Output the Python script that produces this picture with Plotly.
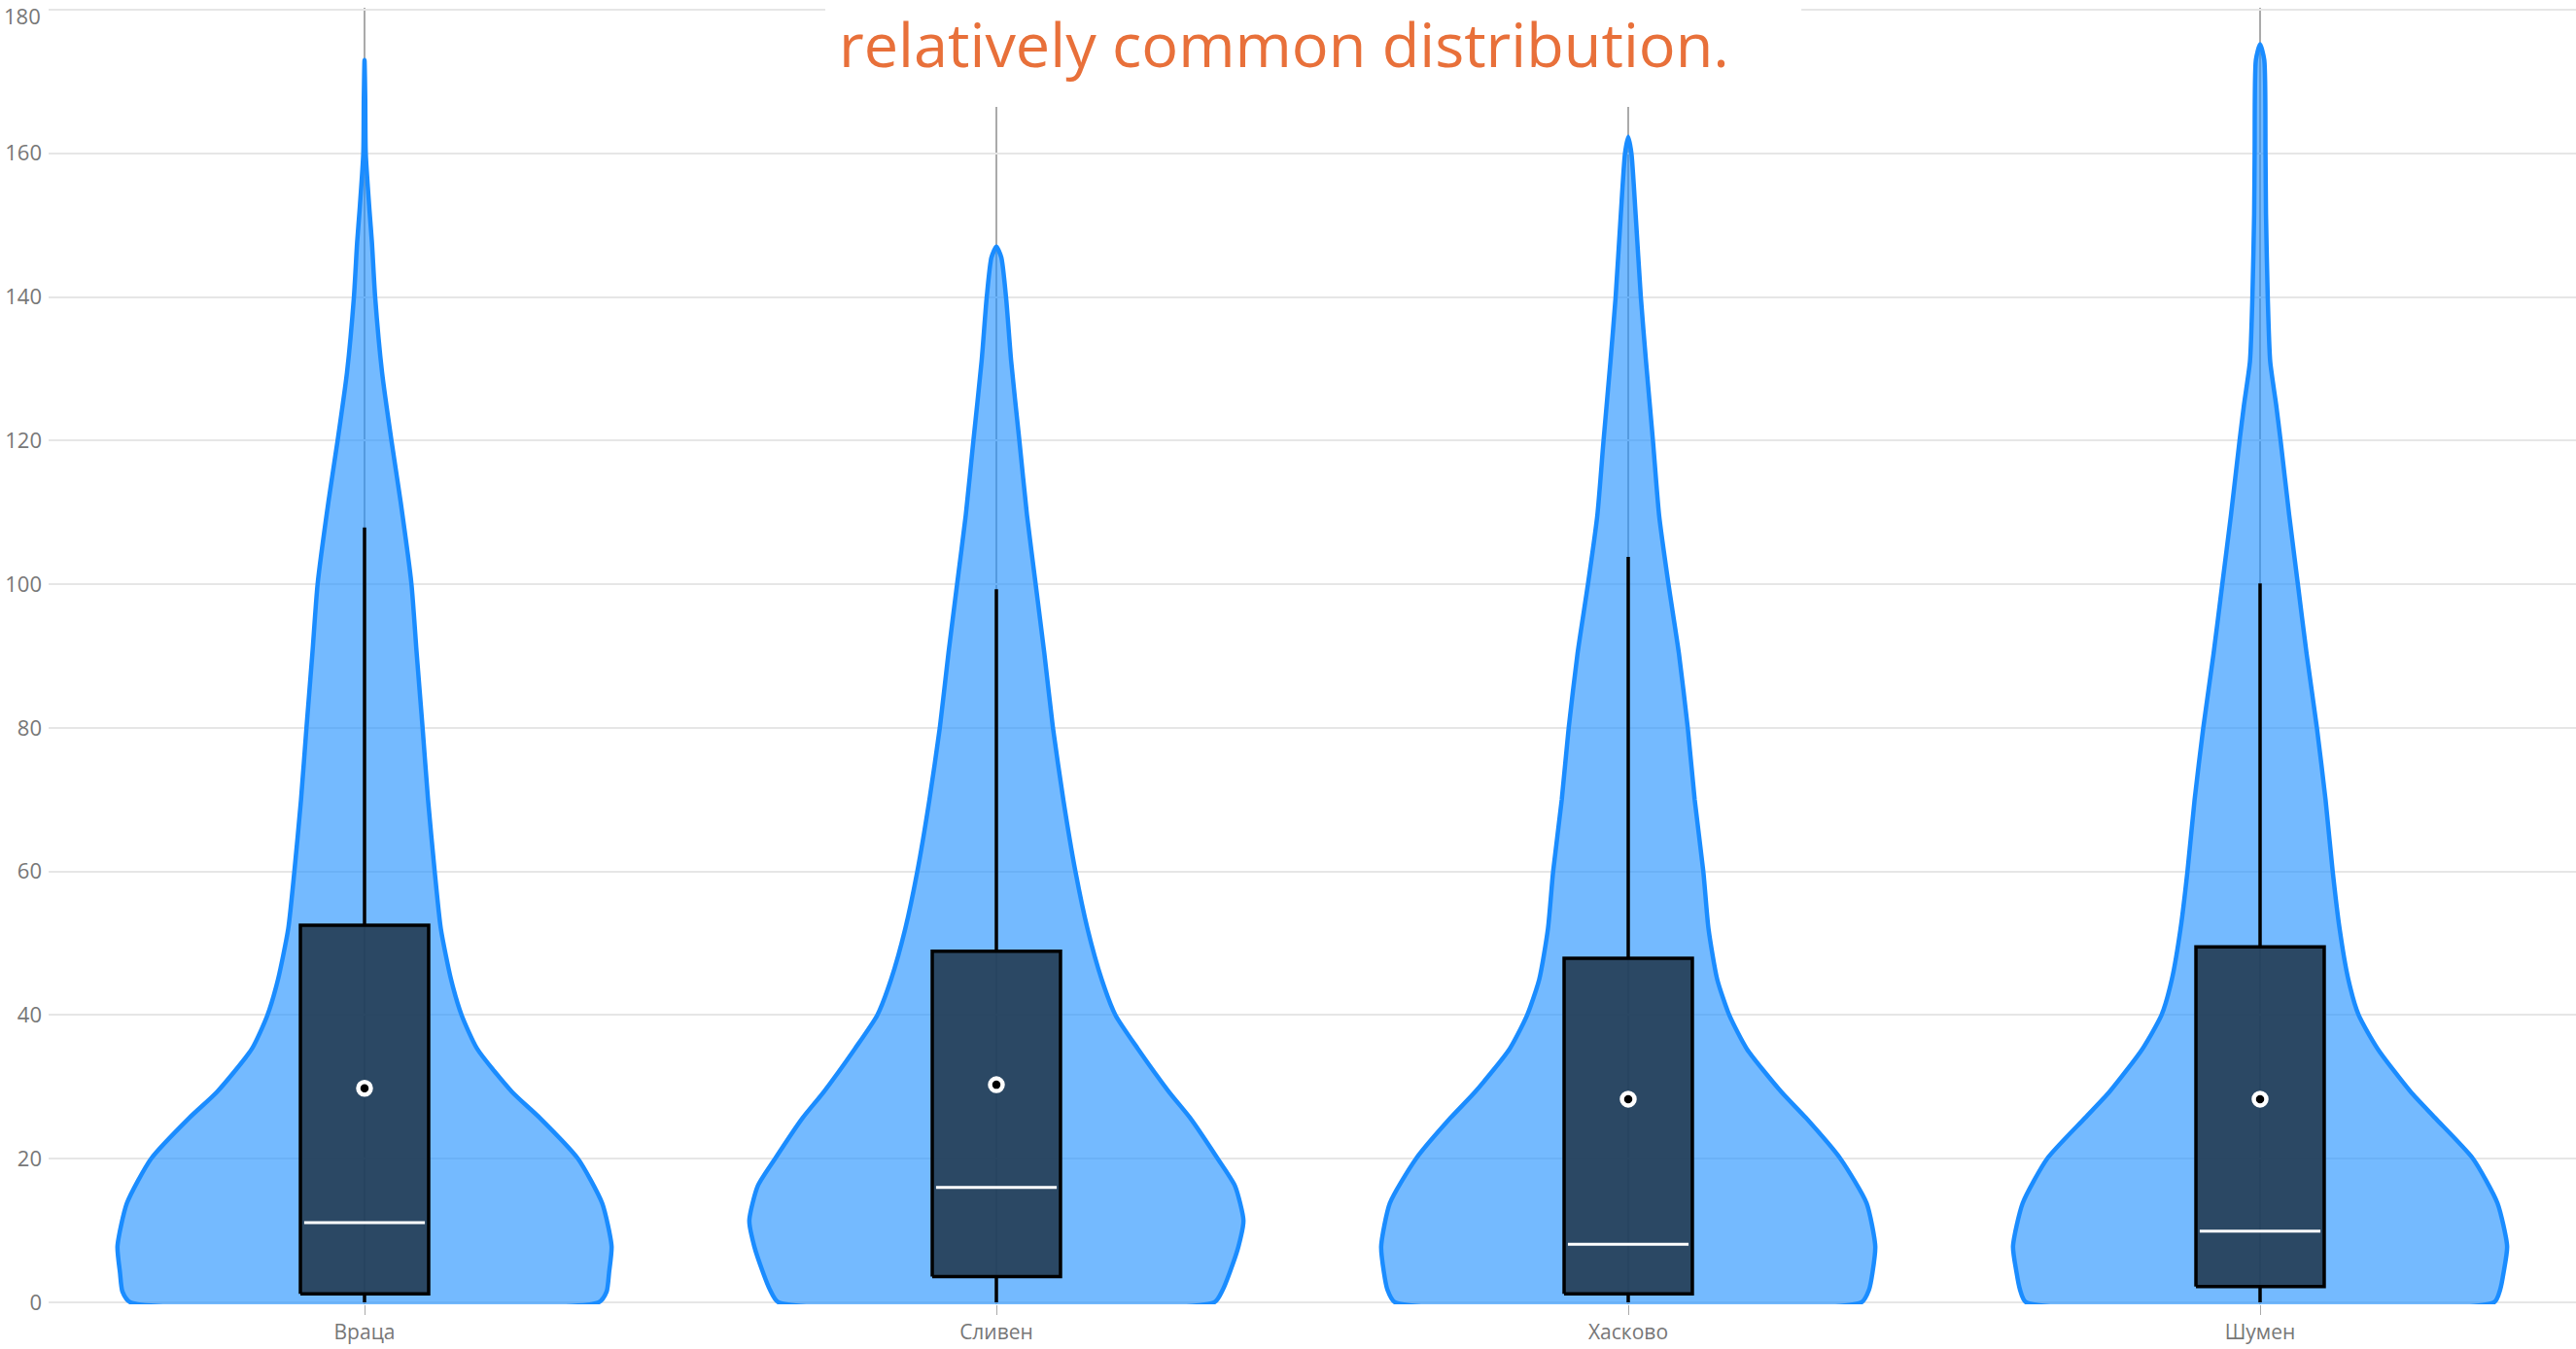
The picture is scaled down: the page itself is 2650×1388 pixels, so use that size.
import plotly.graph_objects as go

# ---------------- data ----------------
categories = ["Враца", "Сливен", "Хасково", "Шумен"]

# violin outlines: value (y) and relative density (max = 1)
vratsa_y = [0, 1.5, 4.2, 7.8, 13.8, 20, 25.7, 29.3, 35.3, 40, 45, 52, 60, 70, 80, 90.4, 100, 111.5, 120, 129.5, 140, 147.6, 152.1, 160, 167.5, 173]
vratsa_d = [0.948, 0.980, 0.990, 1.000, 0.962, 0.864, 0.709, 0.597, 0.456, 0.393, 0.350, 0.309, 0.284, 0.257, 0.235, 0.211, 0.190, 0.146, 0.109, 0.071, 0.043, 0.030, 0.020, 0.005, 0.003, 0.0]

sliven_y = [0, 1.8, 4.2, 7.8, 11.4, 16.2, 20, 25.7, 29.3, 35.3, 40, 45, 52, 60, 70, 80, 90.4, 100, 109.6, 120, 131, 140, 145.5, 147]
sliven_d = [0.882, 0.917, 0.945, 0.980, 1.000, 0.966, 0.896, 0.784, 0.699, 0.573, 0.482, 0.426, 0.369, 0.320, 0.271, 0.229, 0.194, 0.159, 0.124, 0.093, 0.060, 0.039, 0.020, 0.0]

haskovo_y = [0, 1.8, 4.2, 7.8, 13.8, 20, 25.7, 29.3, 35.3, 40, 45, 52, 60, 70, 80, 90.4, 100, 109.6, 120, 131, 140, 151.5, 160, 162.3]
haskovo_d = [0.944, 0.975, 0.989, 1.000, 0.965, 0.859, 0.719, 0.620, 0.480, 0.409, 0.360, 0.325, 0.304, 0.269, 0.241, 0.205, 0.163, 0.125, 0.100, 0.072, 0.051, 0.030, 0.013, 0.0]

shumen_y = [0, 1.8, 4.2, 7.8, 13.8, 20, 25.7, 29.3, 35.3, 40, 45, 52, 60, 70, 80, 90.4, 100, 109.6, 120, 125, 131, 140, 151.5, 160, 173, 175.2]
shumen_d = [0.947, 0.972, 0.986, 1.000, 0.961, 0.862, 0.708, 0.610, 0.476, 0.399, 0.357, 0.322, 0.294, 0.265, 0.230, 0.188, 0.153, 0.118, 0.083, 0.065, 0.041, 0.031, 0.024, 0.022, 0.017, 0.0]

violin_y = [vratsa_y, sliven_y, haskovo_y, shumen_y]
violin_d = [vratsa_d, sliven_d, haskovo_d, shumen_d]

# box statistics
q1 = [1.2, 3.6, 1.2, 2.2]
median = [11.1, 16.0, 8.1, 9.9]
q3 = [52.5, 48.9, 47.9, 49.5]
lower_fence = [0, 0, 0, 0]
upper_fence = [107.9, 99.3, 103.8, 100.1]
mean = [29.8, 30.3, 28.3, 28.3]

y_ticks = [0, 20, 40, 60, 80, 100, 120, 140, 160, 180]
title_text = "relatively common distribution."

# ---------------- styling ----------------
HALF_W = 0.391      # max violin half width (category units)
BOX_W = 0.203       # box width (category units)
VIOLIN_FILL = "rgba(30,144,255,0.62)"
VIOLIN_LINE = "#1a8cff"
BOX_FILL = "rgba(32,54,75,0.86)"
FONT = "Open Sans"
TICK_COLOR = "#777777"

fig = go.Figure()

for i, (ys, ds) in enumerate(zip(violin_y, violin_d)):
    right_x = [i + d * HALF_W for d in ds]
    left_x = [i - d * HALF_W for d in ds]
    xs = right_x + left_x[::-1][1:] + [right_x[0]]
    yy = list(ys) + list(ys[::-1][1:]) + [ys[0]]
    fig.add_trace(go.Scatter(
        x=xs, y=yy, mode="lines", fill="toself",
        fillcolor=VIOLIN_FILL,
        line=dict(color=VIOLIN_LINE, width=4.5, shape="spline", smoothing=0.6),
        hoverinfo="skip", showlegend=False,
    ))

# whiskers
wx, wy = [], []
for i in range(len(categories)):
    wx += [i, i, None, i, i, None]
    wy += [lower_fence[i], q1[i], None, q3[i], upper_fence[i], None]
fig.add_trace(go.Scatter(x=wx, y=wy, mode="lines",
                         line=dict(color="black", width=3.5),
                         hoverinfo="skip", showlegend=False))

# boxes (q1..q3)
for i in range(len(categories)):
    x0, x1 = i - BOX_W / 2, i + BOX_W / 2
    fig.add_trace(go.Scatter(
        x=[x0, x1, x1, x0, x0], y=[q1[i], q1[i], q3[i], q3[i], q1[i]],
        mode="lines", fill="toself", fillcolor=BOX_FILL,
        line=dict(color="black", width=3.5),
        hoverinfo="skip", showlegend=False,
    ))

# white median lines
mx, my = [], []
for i, m in enumerate(median):
    mx += [i - BOX_W / 2 + 0.006, i + BOX_W / 2 - 0.006, None]
    my += [m, m, None]
fig.add_trace(go.Scatter(x=mx, y=my, mode="lines",
                         line=dict(color="white", width=3),
                         hoverinfo="skip", showlegend=False))

# mean markers
fig.add_trace(go.Scatter(
    x=list(range(len(categories))), y=mean, mode="markers",
    marker=dict(symbol="circle", size=13, color="black",
                line=dict(color="white", width=4.5)),
    showlegend=False,
))

# tick labels: the top one is drawn as an annotation nudged inside the page
tick_text = [str(v) for v in y_ticks[:-1]] + [""]
top_label = dict(
    text=str(y_ticks[-1]), xref="paper", yref="y",
    x=0, y=y_ticks[-1], xanchor="right", yanchor="middle",
    xshift=-6, yshift=-6, showarrow=False,
    font=dict(family=FONT, size=22, color=TICK_COLOR),
)

fig.update_layout(
    width=2650, height=1388,
    margin=dict(l=50, r=0, t=8, b=46),
    paper_bgcolor="white", plot_bgcolor="white",
    font=dict(family=FONT, color=TICK_COLOR, size=21),
    xaxis=dict(
        range=[-0.5, len(categories) - 0.5],
        tickmode="array", tickvals=list(range(len(categories))), ticktext=categories,
        showgrid=True, gridcolor="#aaaaaa", gridwidth=1.5,
        ticks="outside", ticklen=10, tickcolor="#aaaaaa",
        showline=False, zeroline=False, automargin=False,
        tickfont=dict(size=21, color=TICK_COLOR),
    ),
    yaxis=dict(
        range=[-0.27, 180.27],
        tickmode="array", tickvals=y_ticks, ticktext=tick_text,
        showgrid=True, gridcolor="#e6e6e6", gridwidth=2,
        zeroline=False, showline=False, ticks="", automargin=False,
        tickfont=dict(size=22, color=TICK_COLOR),
        ticklabelstandoff=6, ticklabeloverflow="allow",
    ),
    shapes=[dict(
        type="rect", xref="paper", yref="paper",
        x0=0.3073, x1=0.6935, y0=0.9235, y1=1.006,
        fillcolor="white", line=dict(width=0), layer="above",
    )],
    annotations=[
        dict(
            text=title_text, xref="paper", yref="paper",
            x=0.4888, y=1.006, xanchor="center", yanchor="top",
            showarrow=False,
            font=dict(family=FONT, size=63, color="#e8703a"),
        ),
        top_label,
    ],
)

fig.write_html("out.html", config={"displayModeBar": False},
               post_script="document.body.style.margin='0px';")
